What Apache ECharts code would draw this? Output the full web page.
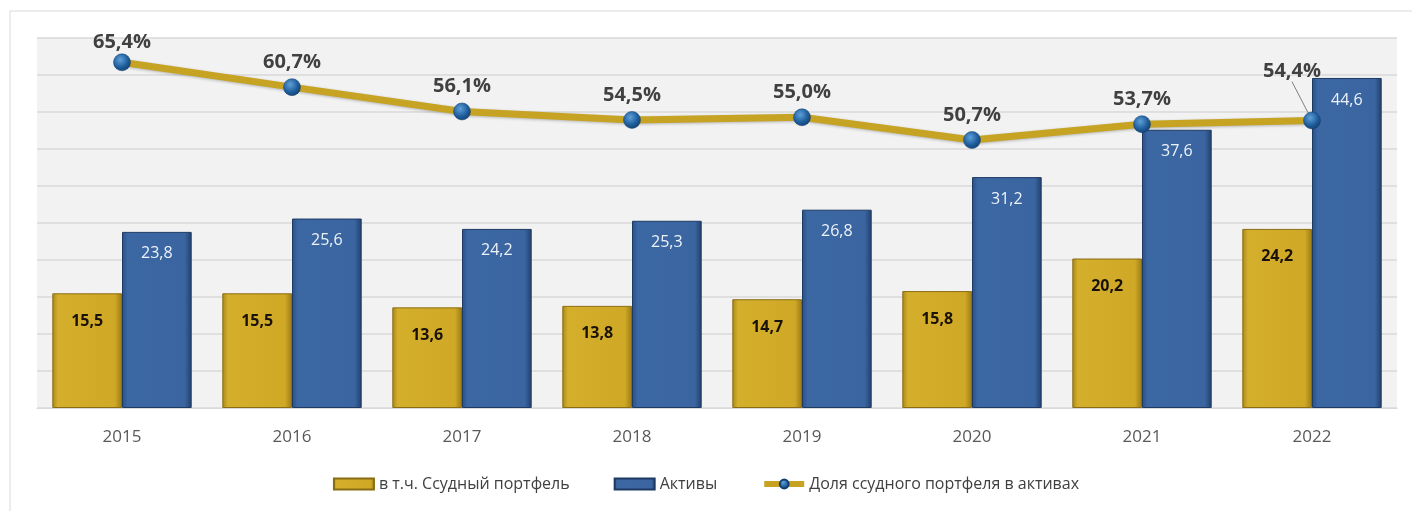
<!DOCTYPE html>
<html>
<head>
<meta charset="utf-8">
<script src="https://cdn.jsdelivr.net/npm/echarts@6/dist/echarts.min.js"></script>
<style>
  html, body { margin: 0; padding: 0; background: #fff; }
  #chart { width: 1412px; height: 511px; }
</style>
</head>
<body>
<div id="chart"></div>
<script>
// Данные графика
const years = ['2015', '2016', '2017', '2018', '2019', '2020', '2021', '2022'];
const loans = [15.5, 15.5, 13.6, 13.8, 14.7, 15.8, 20.2, 24.2];
const assets = [23.8, 25.6, 24.2, 25.3, 26.8, 31.2, 37.6, 44.6];
const share = [65.4, 60.7, 56.1, 54.5, 55.0, 50.7, 53.7, 54.4];
const seriesNames = ['в т.ч. Ссудный портфель', 'Активы', 'Доля ссудного портфеля в активах'];

const fmt = v => v.toFixed(1).replace('.', ',');

const chart = echarts.init(document.getElementById('chart'));

// Градиенты "под Excel"
const goldGrad = new echarts.graphic.LinearGradient(0, 0, 1, 0, [
    { offset: 0, color: '#a8861a' },
    { offset: 0.08, color: '#d4af2c' },
    { offset: 0.9, color: '#cfa826' },
    { offset: 1, color: '#9a7b16' }
]);
const blueGrad = new echarts.graphic.LinearGradient(0, 0, 1, 0, [
    { offset: 0, color: '#2a4f86' },
    { offset: 0.08, color: '#3b67a3' },
    { offset: 0.9, color: '#3a65a0' },
    { offset: 1, color: '#233f6c' }
]);
const dotGrad = new echarts.graphic.RadialGradient(0.4, 0.35, 0.7, [
    { offset: 0, color: '#5fa0d8' },
    { offset: 0.6, color: '#1f5f9e' },
    { offset: 1, color: '#143f6e' }
]);

// у последней точки подпись вынесена с выноской
const last = share.length - 1;
const shareData = share.map((v, i) => i === last
    ? { value: v, labelLine: { show: true } }
    : v);

const option = {
    animation: false,
    backgroundColor: '#ffffff',
    graphic: [
        {
            type: 'rect',
            shape: { x: 10, y: 11, width: 1420, height: 520 },
            style: { fill: 'none', stroke: '#d9d9d9', lineWidth: 1 },
            silent: true
        }
    ],
    grid: { left: 37, right: 15, top: 38, bottom: 103, backgroundColor: '#f2f2f2', show: true, borderWidth: 0 },
    legend: {
        bottom: 14,
        left: 'center',
        itemGap: 44,
        itemWidth: 40,
        itemHeight: 11,
        textStyle: { color: '#404040', fontSize: 16, fontFamily: 'Open Sans' },
        data: [
            { name: seriesNames[0], icon: 'rect' },
            { name: seriesNames[1], icon: 'rect' },
            { name: seriesNames[2], itemStyle: { color: dotGrad }, lineStyle: { width: 6, color: '#c6a322' } }
        ]
    },
    xAxis: {
        type: 'category',
        data: years,
        axisLine: { show: true, lineStyle: { color: '#d9d9d9' } },
        axisTick: { show: false },
        axisLabel: { color: '#595959', fontSize: 17, margin: 21, fontFamily: 'Open Sans' }
    },
    yAxis: [
        {
            type: 'value', min: 0, max: 50, interval: 5, show: true,
            axisLabel: { show: false }, axisLine: { show: false }, axisTick: { show: false },
            splitLine: { lineStyle: { color: '#d9d9d9', width: 1.5 } }
        },
        {
            type: 'value', min: 0, max: 70, interval: 7,
            axisLabel: { show: false }, axisLine: { show: false }, axisTick: { show: false },
            splitLine: { show: false }
        }
    ],
    series: [
        {
            name: seriesNames[0],
            type: 'bar',
            data: loans,
            barWidth: '41%',
            barGap: '0%',
            itemStyle: { color: goldGrad, borderColor: '#8a6d12', borderWidth: 1 },
            label: {
                show: true, position: 'insideTop', distance: 20,
                formatter: p => fmt(p.value),
                color: '#1a1208', fontWeight: 'bold', fontSize: 16, fontFamily: 'Open Sans'
            }
        },
        {
            name: seriesNames[1],
            type: 'bar',
            data: assets,
            barWidth: '41%',
            itemStyle: { color: blueGrad, borderColor: '#1e3a63', borderWidth: 1 },
            label: {
                show: true, position: 'insideTop', distance: 14,
                formatter: p => fmt(p.value),
                color: '#eef3fa', fontSize: 16, fontFamily: 'Open Sans'
            }
        },
        {
            name: seriesNames[2],
            type: 'line',
            yAxisIndex: 1,
            data: shareData,
            symbol: 'circle',
            symbolSize: 17,
            lineStyle: { color: '#c6a322', width: 7, shadowColor: 'rgba(0,0,0,0.25)', shadowBlur: 3, shadowOffsetY: 1 },
            itemStyle: { color: dotGrad, borderColor: '#143f6e', borderWidth: 0.5 },
            label: {
                show: true, position: 'top', distance: 6,
                formatter: p => fmt(p.value) + '%',
                color: '#404040', fontWeight: 'bold', fontSize: 20, fontFamily: 'Open Sans'
            },
            labelLine: { show: false, lineStyle: { color: '#7f7f7f', width: 1 } },
            labelLayout: function (params) {
                if (params.dataIndex === last) {
                    return { dx: -20, dy: -24 };
                }
                if (params.dataIndex === 0) {
                    return { dy: 5 };
                }
                return {};
            },
            z: 5
        }
    ]
};

chart.setOption(option);

window.addEventListener('resize', function () {
    chart.resize();
});
</script>
</body>
</html>
